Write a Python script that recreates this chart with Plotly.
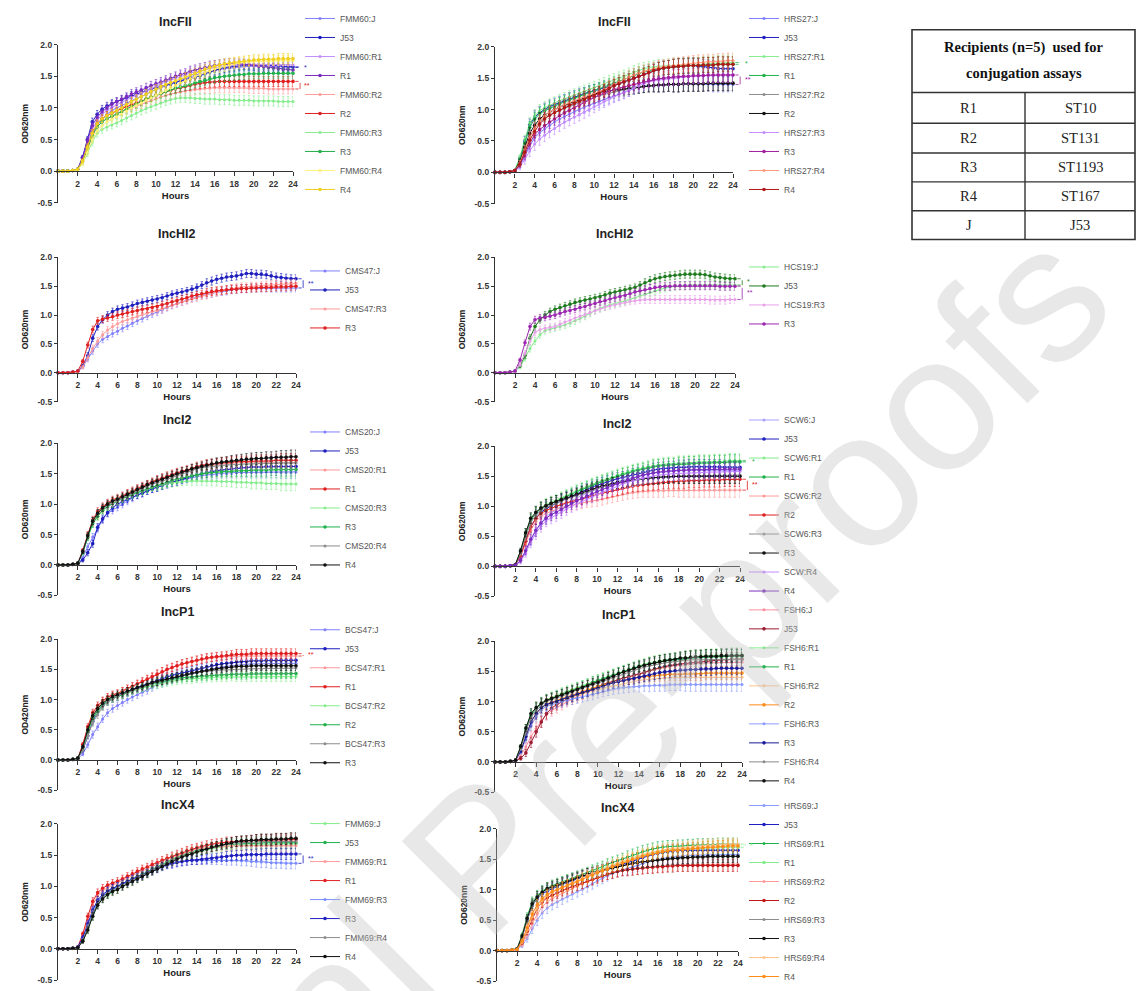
import plotly.graph_objects as go

W, H = 1138, 991

HOURS = [0, 0.5, 1, 1.5, 2, 2.5, 3, 3.5, 4, 4.5, 5, 5.5, 6, 6.5, 7, 7.5, 8, 8.5, 9, 9.5,
         10, 10.5, 11, 11.5, 12, 12.5, 13, 13.5, 14, 14.5, 15, 15.5, 16, 16.5, 17, 17.5,
         18, 18.5, 19, 19.5, 20, 20.5, 21, 21.5, 22, 22.5, 23, 23.5, 24]
XTICKS = [2, 4, 6, 8, 10, 12, 14, 16, 18, 20, 22, 24]
YTICKS = [-0.5, 0.0, 0.5, 1.0, 1.5, 2.0]
YTICKTEXT = ["-0.5", "0.0", "0.5", "1.0", "1.5", "2.0"]

# ---------------- Panel A : IncFII (FMM60) ----------------
A_TITLE = "IncFII"
A_NAMES = ["FMM60:J", "J53", "FMM60:R1", "R1", "FMM60:R2", "R2", "FMM60:R3", "R3", "FMM60:R4", "R4"]
A_FMM60_J = [0,0,0,0.01,0.03, 0.15,0.35,0.58,0.72,0.82, 0.9,0.96,1.0,1.04,1.08, 1.11,1.15,1.18,1.22,1.26, 1.29,1.32,1.35,1.38,1.41, 1.44,1.47,1.5,1.52,1.54, 1.56,1.58,1.6,1.61,1.62, 1.63,1.64,1.65,1.65,1.66, 1.66,1.66,1.66,1.66,1.65, 1.65,1.65,1.64,1.64]
A_J53 = [0,0,0,0.01,0.03, 0.22,0.5,0.78,0.9,0.98, 1.03,1.07,1.1,1.13,1.16, 1.19,1.22,1.24,1.27,1.3, 1.32,1.34,1.36,1.38,1.4, 1.42,1.44,1.46,1.48,1.51, 1.54,1.57,1.6,1.62,1.64, 1.65,1.66,1.67,1.68,1.68, 1.68,1.68,1.68,1.68,1.68, 1.67,1.66,1.66,1.65]
A_FMM60_R1 = [0,0,0,0.01,0.03, 0.18,0.42,0.66,0.8,0.9, 0.96,1.01,1.05,1.09,1.13, 1.17,1.2,1.23,1.27,1.31, 1.35,1.38,1.41,1.44,1.47, 1.5,1.52,1.55,1.57,1.59, 1.61,1.63,1.64,1.65,1.66, 1.67,1.68,1.68,1.69,1.69, 1.69,1.69,1.69,1.68,1.68, 1.68,1.68,1.68,1.68]
A_R1 = [0,0,0,0.01,0.03, 0.2,0.48,0.72,0.85,0.94, 1.0,1.06,1.1,1.14,1.18, 1.22,1.25,1.28,1.32,1.35, 1.38,1.41,1.44,1.47,1.5, 1.53,1.55,1.58,1.6,1.62, 1.64,1.66,1.67,1.68,1.69, 1.7,1.7,1.7,1.69,1.68, 1.67,1.66,1.65,1.64,1.63, 1.62,1.61,1.61,1.6]
A_FMM60_R2 = [0,0,0,0.01,0.03, 0.14,0.34,0.55,0.7,0.78, 0.83,0.87,0.9,0.94,0.97, 1.0,1.03,1.06,1.09,1.12, 1.15,1.18,1.2,1.22,1.24, 1.26,1.27,1.28,1.29,1.3, 1.31,1.31,1.32,1.32,1.32, 1.32,1.32,1.32,1.32,1.31, 1.31,1.31,1.31,1.3,1.3, 1.3,1.3,1.3,1.3]
A_R2 = [0,0,0,0.01,0.03, 0.16,0.38,0.6,0.75,0.83, 0.88,0.92,0.95,0.99,1.02, 1.05,1.08,1.11,1.14,1.17, 1.2,1.23,1.26,1.28,1.3, 1.32,1.34,1.36,1.38,1.39, 1.4,1.41,1.41,1.42,1.42, 1.42,1.42,1.42,1.42,1.42, 1.42,1.42,1.42,1.42,1.42, 1.42,1.42,1.42,1.42]
A_FMM60_R3 = [0,0,0,0.01,0.02, 0.12,0.28,0.46,0.6,0.66, 0.7,0.73,0.76,0.8,0.84, 0.88,0.92,0.96,0.99,1.02, 1.05,1.08,1.11,1.13,1.15, 1.16,1.16,1.16,1.15,1.15, 1.14,1.14,1.14,1.13,1.13, 1.13,1.12,1.12,1.12,1.12, 1.11,1.11,1.11,1.11,1.11, 1.1,1.1,1.1,1.1]
A_R3 = [0,0,0,0.01,0.03, 0.15,0.35,0.56,0.7,0.78, 0.83,0.87,0.9,0.94,0.98, 1.02,1.06,1.1,1.14,1.17, 1.2,1.23,1.26,1.29,1.31, 1.33,1.35,1.37,1.4,1.42, 1.44,1.46,1.48,1.49,1.5, 1.51,1.52,1.53,1.53,1.54, 1.54,1.54,1.55,1.55,1.55, 1.55,1.55,1.55,1.55]
A_FMM60_R4 = [0,0,0,0.01,0.02, 0.12,0.3,0.5,0.64,0.72, 0.78,0.82,0.86,0.9,0.95, 1.0,1.04,1.08,1.12,1.16, 1.2,1.24,1.28,1.32,1.36, 1.4,1.43,1.46,1.5,1.53, 1.56,1.59,1.62,1.64,1.66, 1.68,1.7,1.71,1.72,1.73, 1.73,1.74,1.74,1.74,1.75, 1.75,1.75,1.75,1.75]
A_R4 = [0,0,0,0.01,0.03, 0.16,0.38,0.6,0.75,0.83, 0.88,0.92,0.96,1.0,1.05, 1.1,1.14,1.18,1.22,1.26, 1.3,1.34,1.37,1.4,1.43, 1.46,1.49,1.52,1.55,1.58, 1.61,1.64,1.66,1.68,1.7, 1.71,1.72,1.73,1.74,1.75, 1.76,1.76,1.77,1.77,1.77, 1.78,1.78,1.78,1.78]
A_VALUES = [A_FMM60_J, A_J53, A_FMM60_R1, A_R1, A_FMM60_R2, A_R2, A_FMM60_R3, A_R3, A_FMM60_R4, A_R4]
A_SD = [0,0,0,0.01,0.01, 0.03,0.05,0.06,0.06,0.06, 0.06,0.06,0.06,0.06,0.06, 0.07,0.07,0.07,0.07,0.07, 0.07,0.07,0.07,0.07,0.07, 0.07,0.07,0.08,0.08,0.08, 0.08,0.08,0.08,0.08,0.08, 0.08,0.08,0.08,0.08,0.08, 0.08,0.08,0.08,0.08,0.08, 0.08,0.08,0.08,0.08]
A_SIG = [(0, 1, "*"), (4, 5, "**")]

# ---------------- Panel B : IncFII (HRS27) ----------------
B_TITLE = "IncFII"
B_NAMES = ["HRS27:J", "J53", "HRS27:R1", "R1", "HRS27:R2", "R2", "HRS27:R3", "R3", "HRS27:R4", "R4"]
B_HRS27_J = [0,0,0,0.01,0.02, 0.1,0.25,0.42,0.55,0.63, 0.69,0.75,0.8,0.85,0.89, 0.93,0.97,1.0,1.04,1.07, 1.1,1.13,1.16,1.19,1.22, 1.25,1.28,1.31,1.34,1.36, 1.37,1.38,1.39,1.39,1.4, 1.4,1.4,1.4,1.41,1.41, 1.41,1.41,1.41,1.41,1.4, 1.4,1.4,1.4,1.4]
B_J53 = [0,0,0,0.01,0.03, 0.22,0.5,0.76,0.88,0.95, 1.0,1.05,1.08,1.11,1.14, 1.17,1.2,1.23,1.25,1.28, 1.3,1.32,1.34,1.36,1.38, 1.41,1.44,1.47,1.5,1.53, 1.56,1.59,1.62,1.64,1.66, 1.67,1.68,1.69,1.7,1.7, 1.7,1.69,1.68,1.67,1.66, 1.65,1.65,1.65,1.65]
B_HRS27_R1 = [0,0,0,0.01,0.03, 0.24,0.52,0.78,0.9,0.98, 1.03,1.07,1.1,1.14,1.17, 1.2,1.23,1.26,1.29,1.32, 1.35,1.38,1.41,1.44,1.47, 1.5,1.53,1.56,1.6,1.63, 1.65,1.67,1.68,1.69,1.69, 1.7,1.7,1.7,1.7,1.7, 1.7,1.71,1.72,1.73,1.73, 1.74,1.74,1.75,1.75]
B_R1 = [0,0,0,0.01,0.03, 0.2,0.46,0.72,0.85,0.93, 0.98,1.02,1.05,1.09,1.12, 1.15,1.18,1.21,1.24,1.27, 1.3,1.33,1.36,1.39,1.42, 1.45,1.48,1.51,1.55,1.58, 1.6,1.62,1.64,1.65,1.66, 1.67,1.68,1.69,1.69,1.7, 1.7,1.7,1.71,1.71,1.71, 1.72,1.72,1.72,1.72]
B_HRS27_R2 = [0,0,0,0.01,0.03, 0.15,0.36,0.56,0.7,0.8, 0.86,0.91,0.95,0.99,1.02, 1.05,1.08,1.11,1.14,1.17, 1.2,1.22,1.24,1.26,1.28, 1.3,1.31,1.33,1.35,1.36, 1.37,1.38,1.38,1.39,1.39, 1.4,1.4,1.4,1.41,1.41, 1.41,1.41,1.42,1.42,1.42, 1.42,1.42,1.42,1.42]
B_R2 = [0,0,0,0.01,0.03, 0.17,0.4,0.62,0.75,0.85, 0.91,0.96,1.0,1.04,1.07, 1.1,1.13,1.16,1.19,1.22, 1.25,1.27,1.29,1.3,1.31, 1.32,1.33,1.34,1.35,1.36, 1.37,1.38,1.38,1.39,1.39, 1.4,1.4,1.4,1.41,1.41, 1.41,1.41,1.41,1.42,1.42, 1.42,1.42,1.42,1.42]
B_HRS27_R3 = [0,0,0,0.01,0.02, 0.08,0.2,0.34,0.45,0.53, 0.59,0.65,0.7,0.75,0.8, 0.84,0.88,0.92,0.96,1.0, 1.05,1.09,1.13,1.17,1.21, 1.24,1.27,1.31,1.35,1.38, 1.41,1.44,1.46,1.47,1.48, 1.49,1.5,1.51,1.52,1.52, 1.53,1.53,1.54,1.54,1.54, 1.55,1.55,1.55,1.55]
B_R3 = [0,0,0,0.01,0.02, 0.12,0.28,0.46,0.6,0.68, 0.74,0.8,0.85,0.9,0.95, 0.99,1.03,1.07,1.11,1.16, 1.2,1.23,1.26,1.29,1.32, 1.34,1.36,1.38,1.4,1.42, 1.44,1.46,1.48,1.49,1.5, 1.51,1.52,1.52,1.53,1.53, 1.54,1.54,1.54,1.55,1.55, 1.55,1.55,1.55,1.55]
B_HRS27_R4 = [0,0,0,0.01,0.03, 0.15,0.36,0.56,0.7,0.82, 0.9,0.96,1.0,1.04,1.08, 1.11,1.14,1.17,1.2,1.23, 1.25,1.28,1.32,1.36,1.4, 1.44,1.48,1.52,1.55,1.58, 1.61,1.63,1.65,1.67,1.68, 1.69,1.7,1.71,1.72,1.73, 1.74,1.75,1.75,1.76,1.76, 1.77,1.77,1.78,1.78]
B_R4 = [0,0,0,0.01,0.03, 0.13,0.32,0.51,0.65,0.77, 0.85,0.91,0.95,0.99,1.03, 1.07,1.1,1.13,1.16,1.19, 1.22,1.26,1.3,1.34,1.38, 1.41,1.44,1.47,1.5,1.53, 1.56,1.59,1.62,1.64,1.66, 1.67,1.68,1.69,1.69,1.7, 1.7,1.7,1.71,1.71,1.71, 1.72,1.72,1.72,1.72]
B_VALUES = [B_HRS27_J, B_J53, B_HRS27_R1, B_R1, B_HRS27_R2, B_R2, B_HRS27_R3, B_R3, B_HRS27_R4, B_R4]
B_SD = [0,0,0,0.01,0.01, 0.04,0.07,0.09,0.1,0.1, 0.1,0.1,0.1,0.1,0.1, 0.1,0.1,0.1,0.1,0.1, 0.1,0.1,0.1,0.1,0.1, 0.1,0.1,0.1,0.1,0.1, 0.1,0.1,0.1,0.11,0.11, 0.11,0.12,0.12,0.12,0.12, 0.12,0.12,0.12,0.12,0.12, 0.12,0.12,0.12,0.12]
B_SIG = [(2, 3, "*"), (0, 7, "**")]

# ---------------- Panel C : IncHI2 (CMS47) ----------------
C_TITLE = "IncHI2"
C_NAMES = ["CMS47:J", "J53", "CMS47:R3", "R3"]
C_CMS47_J = [0,0,0,0.01,0.02, 0.1,0.24,0.38,0.5,0.58, 0.63,0.68,0.72,0.77,0.81, 0.86,0.9,0.94,0.98,1.02, 1.05,1.09,1.13,1.17,1.2, 1.23,1.26,1.29,1.32,1.34, 1.36,1.38,1.4,1.41,1.42, 1.44,1.45,1.46,1.46,1.47, 1.47,1.47,1.47,1.47,1.47, 1.47,1.47,1.47,1.47]
C_J53 = [0,0,0,0.01,0.03, 0.12,0.3,0.6,0.8,0.92, 1.0,1.06,1.1,1.12,1.14, 1.17,1.2,1.22,1.24,1.26, 1.28,1.3,1.33,1.36,1.38, 1.4,1.42,1.45,1.48,1.52, 1.56,1.59,1.62,1.64,1.66, 1.67,1.68,1.7,1.72,1.72, 1.71,1.71,1.7,1.68,1.66, 1.65,1.64,1.63,1.63]
C_CMS47_R3 = [0,0,0,0.01,0.02, 0.1,0.26,0.42,0.55,0.66, 0.74,0.8,0.85,0.89,0.92, 0.95,0.98,1.01,1.03,1.06, 1.08,1.11,1.14,1.17,1.2, 1.23,1.25,1.28,1.3,1.33, 1.35,1.38,1.4,1.42,1.44, 1.46,1.48,1.49,1.49,1.5, 1.5,1.51,1.52,1.52,1.53, 1.53,1.54,1.54,1.55]
C_R3 = [0,0,0,0.01,0.03, 0.2,0.48,0.75,0.9,0.93, 0.95,0.97,1.0,1.02,1.04, 1.06,1.08,1.1,1.11,1.13, 1.15,1.18,1.2,1.23,1.25, 1.28,1.3,1.33,1.35,1.37, 1.39,1.41,1.42,1.43,1.44, 1.45,1.45,1.46,1.46,1.47, 1.47,1.48,1.48,1.48,1.49, 1.49,1.49,1.5,1.5]
C_VALUES = [C_CMS47_J, C_J53, C_CMS47_R3, C_R3]
C_SD = [0,0,0,0.01,0.01, 0.03,0.05,0.06,0.06,0.06, 0.06,0.06,0.06,0.06,0.06, 0.06,0.06,0.06,0.06,0.06, 0.06,0.06,0.06,0.06,0.06, 0.06,0.06,0.06,0.06,0.06, 0.07,0.07,0.07,0.07,0.07, 0.07,0.07,0.07,0.07,0.07, 0.07,0.07,0.07,0.07,0.07, 0.07,0.07,0.07,0.07]
C_SIG = [(0, 1, "**")]

# ---------------- Panel D : IncHI2 (HCS19) ----------------
D_TITLE = "IncHI2"
D_NAMES = ["HCS19:J", "J53", "HCS19:R3", "R3"]
D_HCS19_J = [0,0,0,0.01,0.02, 0.1,0.25,0.42,0.55,0.66, 0.73,0.76,0.78,0.8,0.83, 0.86,0.9,0.94,0.98,1.03, 1.08,1.12,1.15,1.18,1.2, 1.22,1.24,1.27,1.3,1.33, 1.36,1.39,1.42,1.45,1.47, 1.49,1.5,1.51,1.51,1.52, 1.52,1.52,1.52,1.52,1.52, 1.52,1.52,1.52,1.52]
D_J53 = [0,0,0,0.01,0.03, 0.12,0.3,0.6,0.8,0.92, 1.0,1.06,1.1,1.13,1.16, 1.19,1.22,1.24,1.26,1.28, 1.3,1.32,1.35,1.38,1.4, 1.42,1.44,1.46,1.48,1.52, 1.56,1.6,1.63,1.65,1.67, 1.68,1.69,1.7,1.71,1.71, 1.71,1.71,1.7,1.68,1.66, 1.65,1.64,1.63,1.63]
D_HCS19_R3 = [0,0,0,0.01,0.02, 0.14,0.34,0.55,0.7,0.75, 0.77,0.79,0.8,0.84,0.88, 0.91,0.95,0.98,1.01,1.05, 1.08,1.11,1.14,1.16,1.18, 1.2,1.22,1.24,1.25,1.26, 1.27,1.27,1.27,1.27,1.27, 1.27,1.27,1.27,1.27,1.27, 1.27,1.27,1.27,1.26,1.26, 1.26,1.26,1.27,1.27]
D_R3 = [0,0,0,0.01,0.03, 0.22,0.52,0.8,0.92,0.95, 0.96,0.98,1.0,1.03,1.06, 1.08,1.1,1.13,1.15,1.18, 1.2,1.23,1.25,1.28,1.3, 1.32,1.34,1.37,1.4,1.42, 1.44,1.46,1.48,1.49,1.5, 1.5,1.51,1.51,1.51,1.51, 1.51,1.51,1.51,1.51,1.51, 1.5,1.5,1.5,1.5]
D_VALUES = [D_HCS19_J, D_J53, D_HCS19_R3, D_R3]
D_SD = [0,0,0,0.01,0.01, 0.03,0.05,0.06,0.06,0.06, 0.06,0.06,0.06,0.06,0.06, 0.06,0.06,0.06,0.06,0.06, 0.06,0.06,0.06,0.06,0.06, 0.06,0.06,0.06,0.06,0.06, 0.07,0.07,0.07,0.07,0.07, 0.07,0.07,0.07,0.07,0.07, 0.07,0.07,0.07,0.07,0.07, 0.07,0.07,0.07,0.07]
D_SIG = [(0, 1, "*"), (2, 3, "**")]

# ---------------- Panel E : IncI2 (CMS20) ----------------
E_TITLE = "IncI2"
E_NAMES = ["CMS20:J", "J53", "CMS20:R1", "R1", "CMS20:R3", "R3", "CMS20:R4", "R4"]
E_CMS20_J = [0,0,0,0.01,0.02, 0.12,0.3,0.46,0.6,0.74, 0.85,0.9,0.95,1.0,1.05, 1.1,1.15,1.18,1.22,1.25, 1.28,1.31,1.33,1.36,1.38, 1.4,1.42,1.44,1.45,1.47, 1.48,1.49,1.5,1.51,1.51, 1.52,1.52,1.52,1.53,1.53, 1.53,1.53,1.53,1.53,1.53, 1.53,1.53,1.53,1.53]
E_J53 = [0,0,0,0.01,0.02, 0.08,0.2,0.35,0.62,0.76, 0.86,0.94,1.0,1.04,1.08, 1.12,1.15,1.18,1.22,1.25, 1.28,1.31,1.34,1.36,1.38, 1.41,1.43,1.46,1.48,1.5, 1.52,1.54,1.55,1.56,1.57, 1.58,1.59,1.6,1.6,1.61, 1.61,1.61,1.62,1.62,1.62, 1.62,1.62,1.62,1.62]
E_CMS20_R1 = [0,0,0,0.01,0.03, 0.2,0.46,0.7,0.82,0.92, 0.98,1.04,1.08,1.12,1.16, 1.2,1.23,1.27,1.31,1.35, 1.38,1.41,1.44,1.47,1.5, 1.52,1.54,1.57,1.6,1.62, 1.63,1.64,1.65,1.66,1.67, 1.67,1.68,1.68,1.68,1.68, 1.68,1.68,1.68,1.68,1.68, 1.68,1.68,1.68,1.68]
E_R1 = [0,0,0,0.01,0.03, 0.24,0.5,0.74,0.88,0.96, 1.02,1.07,1.1,1.14,1.18, 1.22,1.26,1.3,1.33,1.37, 1.4,1.43,1.46,1.49,1.52, 1.54,1.56,1.59,1.62,1.64, 1.65,1.66,1.67,1.68,1.69, 1.69,1.7,1.7,1.7,1.71, 1.71,1.71,1.71,1.71,1.72, 1.72,1.72,1.72,1.72]
E_CMS20_R3 = [0,0,0,0.01,0.03, 0.2,0.45,0.68,0.8,0.9, 0.96,1.01,1.05,1.09,1.13, 1.16,1.19,1.22,1.25,1.28, 1.3,1.32,1.34,1.35,1.36, 1.37,1.38,1.38,1.38,1.38, 1.38,1.38,1.38,1.37,1.37, 1.37,1.36,1.36,1.36,1.35, 1.35,1.35,1.34,1.34,1.34, 1.33,1.33,1.33,1.33]
E_R3 = [0,0,0,0.01,0.03, 0.2,0.45,0.68,0.8,0.9, 0.96,1.01,1.05,1.09,1.13, 1.16,1.19,1.22,1.25,1.28, 1.3,1.33,1.36,1.39,1.41, 1.43,1.45,1.47,1.48,1.5, 1.51,1.52,1.53,1.53,1.54, 1.54,1.55,1.55,1.55,1.56, 1.56,1.56,1.56,1.57,1.57, 1.57,1.57,1.57,1.57]
E_CMS20_R4 = [0,0,0,0.01,0.03, 0.22,0.48,0.72,0.85,0.93, 0.98,1.02,1.05,1.1,1.14, 1.18,1.22,1.26,1.3,1.33, 1.35,1.38,1.41,1.44,1.47, 1.5,1.52,1.55,1.58,1.6, 1.61,1.62,1.63,1.64,1.64, 1.65,1.65,1.66,1.66,1.66, 1.67,1.67,1.67,1.67,1.68, 1.68,1.68,1.68,1.68]
E_R4 = [0,0,0,0.01,0.03, 0.22,0.48,0.72,0.85,0.94, 1.0,1.05,1.08,1.12,1.16, 1.2,1.24,1.28,1.32,1.35, 1.38,1.41,1.44,1.47,1.5, 1.53,1.55,1.58,1.6,1.62, 1.64,1.66,1.68,1.69,1.7, 1.71,1.72,1.73,1.74,1.74, 1.75,1.75,1.76,1.76,1.77, 1.77,1.77,1.78,1.78]
E_VALUES = [E_CMS20_J, E_J53, E_CMS20_R1, E_R1, E_CMS20_R3, E_R3, E_CMS20_R4, E_R4]
E_SD = [0,0,0,0.01,0.01, 0.03,0.05,0.06,0.06,0.06, 0.06,0.06,0.06,0.06,0.06, 0.06,0.06,0.06,0.06,0.06, 0.07,0.07,0.07,0.07,0.07, 0.07,0.07,0.07,0.07,0.07, 0.08,0.08,0.08,0.08,0.08, 0.09,0.09,0.09,0.09,0.1, 0.1,0.1,0.1,0.1,0.1, 0.11,0.11,0.11,0.11]
E_SIG = []

# ---------------- Panel F : IncI2 (SCW6) ----------------
F_TITLE = "IncI2"
F_NAMES = ["SCW6:J", "J53", "SCW6:R1", "R1", "SCW6:R2", "R2", "SCW6:R3", "R3", "SCW:R4", "R4"]
F_SCW6_J = [0,0,0,0.01,0.02, 0.1,0.26,0.44,0.6,0.72, 0.82,0.89,0.95,1.0,1.05, 1.1,1.14,1.18,1.22,1.26, 1.3,1.33,1.36,1.39,1.42, 1.44,1.46,1.48,1.5,1.52, 1.54,1.55,1.56,1.57,1.58, 1.59,1.6,1.6,1.6,1.6, 1.6,1.6,1.6,1.6,1.6, 1.6,1.6,1.6,1.6]
F_J53 = [0,0,0,0.01,0.03, 0.18,0.42,0.66,0.8,0.9, 0.96,1.01,1.05,1.09,1.13, 1.17,1.21,1.25,1.28,1.32, 1.35,1.38,1.41,1.44,1.46, 1.48,1.5,1.53,1.55,1.57, 1.59,1.61,1.62,1.63,1.64, 1.64,1.65,1.65,1.66,1.66, 1.66,1.66,1.66,1.66,1.66, 1.65,1.65,1.65,1.65]
F_SCW6_R1 = [0,0,0,0.01,0.03, 0.26,0.56,0.8,0.9,0.98, 1.03,1.07,1.1,1.14,1.18, 1.22,1.26,1.3,1.33,1.37, 1.4,1.43,1.46,1.49,1.52, 1.55,1.57,1.6,1.62,1.64, 1.66,1.68,1.69,1.7,1.71, 1.71,1.72,1.72,1.73,1.73, 1.74,1.74,1.74,1.75,1.75, 1.75,1.76,1.76,1.76]
F_R1 = [0,0,0,0.01,0.03, 0.24,0.53,0.77,0.88,0.96, 1.01,1.05,1.08,1.12,1.16, 1.2,1.24,1.28,1.31,1.35, 1.38,1.41,1.44,1.47,1.5, 1.53,1.55,1.58,1.6,1.62, 1.64,1.66,1.67,1.68,1.69, 1.69,1.7,1.7,1.71,1.71, 1.72,1.72,1.72,1.73,1.73, 1.73,1.74,1.74,1.74]
F_SCW6_R2 = [0,0,0,0.01,0.03, 0.16,0.38,0.6,0.75,0.83, 0.88,0.92,0.95,0.98,1.0, 1.02,1.04,1.06,1.08,1.09, 1.1,1.12,1.14,1.16,1.18, 1.2,1.22,1.23,1.24,1.25, 1.25,1.26,1.26,1.26,1.27, 1.27,1.27,1.27,1.27,1.27, 1.27,1.27,1.27,1.27,1.27, 1.27,1.27,1.27,1.27]
F_R2 = [0,0,0,0.01,0.03, 0.18,0.42,0.66,0.8,0.88, 0.93,0.97,1.0,1.03,1.06, 1.08,1.1,1.12,1.15,1.17, 1.2,1.22,1.24,1.26,1.28, 1.3,1.32,1.34,1.35,1.36, 1.37,1.38,1.39,1.4,1.41, 1.41,1.42,1.42,1.43,1.43, 1.43,1.44,1.44,1.44,1.44, 1.45,1.45,1.45,1.45]
F_SCW6_R3 = [0,0,0,0.01,0.03, 0.22,0.5,0.73,0.85,0.93, 0.98,1.02,1.05,1.09,1.12, 1.15,1.18,1.21,1.24,1.27, 1.3,1.32,1.34,1.36,1.38, 1.4,1.41,1.43,1.45,1.46, 1.47,1.48,1.48,1.49,1.49, 1.5,1.5,1.5,1.51,1.51, 1.51,1.51,1.51,1.52,1.52, 1.52,1.52,1.52,1.52]
F_R3 = [0,0,0,0.01,0.03, 0.26,0.56,0.8,0.9,0.97, 1.01,1.05,1.08,1.11,1.14, 1.17,1.2,1.23,1.26,1.29, 1.32,1.34,1.36,1.38,1.4, 1.41,1.42,1.44,1.45,1.46, 1.47,1.48,1.48,1.49,1.49, 1.5,1.5,1.5,1.5,1.5, 1.5,1.5,1.5,1.5,1.5, 1.5,1.5,1.5,1.5]
F_SCW_R4 = [0,0,0,0.01,0.02, 0.08,0.22,0.4,0.55,0.67, 0.76,0.81,0.85,0.9,0.95, 1.0,1.04,1.08,1.12,1.16, 1.2,1.23,1.27,1.3,1.34, 1.37,1.4,1.43,1.45,1.47, 1.49,1.51,1.52,1.53,1.54, 1.54,1.55,1.55,1.56,1.56, 1.56,1.57,1.57,1.57,1.57, 1.58,1.58,1.58,1.58]
F_R4 = [0,0,0,0.01,0.02, 0.1,0.26,0.45,0.6,0.72, 0.8,0.86,0.9,0.95,1.0, 1.05,1.09,1.13,1.17,1.21, 1.25,1.28,1.31,1.35,1.38, 1.41,1.44,1.47,1.5,1.52, 1.54,1.56,1.57,1.58,1.59, 1.59,1.6,1.6,1.61,1.61, 1.61,1.61,1.62,1.62,1.62, 1.62,1.62,1.62,1.62]
F_VALUES = [F_SCW6_J, F_J53, F_SCW6_R1, F_R1, F_SCW6_R2, F_R2, F_SCW6_R3, F_R3, F_SCW_R4, F_R4]
F_SD = [0,0,0,0.01,0.01, 0.04,0.07,0.09,0.1,0.1, 0.1,0.1,0.1,0.1,0.1, 0.1,0.1,0.1,0.1,0.1, 0.1,0.1,0.1,0.1,0.1, 0.1,0.1,0.1,0.1,0.1, 0.1,0.11,0.11,0.11,0.11, 0.11,0.12,0.12,0.12,0.12, 0.12,0.12,0.12,0.12,0.12, 0.12,0.12,0.12,0.12]
F_SIG = [(2, 3, "*"), (4, 5, "**")]

# ---------------- Panel G : IncP1 (BCS47) ----------------
G_TITLE = "IncP1"
G_NAMES = ["BCS47:J", "J53", "BCS47:R1", "R1", "BCS47:R2", "R2", "BCS47:R3", "R3"]
G_BCS47_J = [0,0,0,0.01,0.02, 0.1,0.25,0.42,0.55,0.68, 0.78,0.85,0.9,0.95,1.0, 1.04,1.08,1.12,1.15,1.2, 1.25,1.28,1.31,1.34,1.37, 1.39,1.41,1.43,1.45,1.47, 1.49,1.51,1.53,1.54,1.55, 1.56,1.57,1.58,1.58,1.59, 1.59,1.59,1.6,1.6,1.6, 1.6,1.6,1.6,1.6]
G_J53 = [0,0,0,0.01,0.03, 0.16,0.4,0.64,0.8,0.9, 0.97,1.02,1.05,1.09,1.13, 1.17,1.2,1.23,1.26,1.29, 1.32,1.35,1.38,1.4,1.42, 1.44,1.46,1.48,1.5,1.52, 1.54,1.56,1.58,1.59,1.6, 1.61,1.62,1.63,1.63,1.64, 1.64,1.64,1.65,1.65,1.65, 1.65,1.65,1.65,1.65]
G_BCS47_R1 = [0,0,0,0.01,0.03, 0.24,0.52,0.76,0.88,0.97, 1.03,1.07,1.1,1.14,1.18, 1.22,1.26,1.3,1.34,1.38, 1.42,1.46,1.5,1.53,1.56, 1.59,1.61,1.63,1.65,1.67, 1.68,1.69,1.7,1.7,1.71, 1.71,1.72,1.72,1.72,1.72, 1.72,1.72,1.72,1.72,1.72, 1.72,1.72,1.72,1.72]
G_R1 = [0,0,0,0.01,0.03, 0.26,0.55,0.78,0.9,0.98, 1.04,1.08,1.1,1.14,1.18, 1.22,1.26,1.3,1.34,1.38, 1.42,1.46,1.5,1.53,1.56, 1.59,1.61,1.63,1.65,1.67, 1.69,1.7,1.71,1.72,1.73, 1.74,1.75,1.75,1.75,1.76, 1.76,1.76,1.76,1.76,1.76, 1.76,1.76,1.76,1.76]
G_BCS47_R2 = [0,0,0,0.01,0.03, 0.2,0.45,0.68,0.8,0.9, 0.97,1.02,1.05,1.08,1.11, 1.14,1.17,1.19,1.21,1.23, 1.25,1.27,1.29,1.31,1.32, 1.33,1.34,1.34,1.35,1.35, 1.36,1.36,1.37,1.37,1.37, 1.38,1.38,1.38,1.38,1.38, 1.38,1.38,1.38,1.38,1.38, 1.38,1.38,1.38,1.38]
G_R2 = [0,0,0,0.01,0.03, 0.2,0.46,0.7,0.82,0.92, 0.98,1.02,1.05,1.08,1.12, 1.15,1.18,1.2,1.23,1.26, 1.28,1.3,1.32,1.34,1.35, 1.36,1.37,1.37,1.38,1.39, 1.39,1.4,1.4,1.41,1.41, 1.42,1.42,1.42,1.42,1.43, 1.43,1.43,1.43,1.43,1.43, 1.43,1.43,1.43,1.43]
G_BCS47_R3 = [0,0,0,0.01,0.03, 0.16,0.4,0.62,0.75,0.88, 0.96,1.01,1.05,1.09,1.12, 1.15,1.18,1.21,1.24,1.27, 1.3,1.32,1.34,1.36,1.38, 1.4,1.42,1.43,1.45,1.46, 1.47,1.48,1.48,1.49,1.49, 1.5,1.5,1.5,1.51,1.51, 1.51,1.51,1.52,1.52,1.52, 1.52,1.52,1.52,1.52]
G_R3 = [0,0,0,0.01,0.03, 0.22,0.5,0.73,0.85,0.94, 1.0,1.05,1.08,1.11,1.14, 1.17,1.2,1.22,1.25,1.28, 1.3,1.32,1.34,1.36,1.38, 1.4,1.42,1.44,1.45,1.47, 1.48,1.5,1.51,1.52,1.53, 1.54,1.55,1.55,1.55,1.56, 1.56,1.56,1.56,1.56,1.56, 1.56,1.56,1.56,1.56]
G_VALUES = [G_BCS47_J, G_J53, G_BCS47_R1, G_R1, G_BCS47_R2, G_R2, G_BCS47_R3, G_R3]
G_SD = [0,0,0,0.01,0.01, 0.03,0.05,0.06,0.06,0.06, 0.06,0.06,0.06,0.06,0.06, 0.06,0.06,0.06,0.06,0.06, 0.07,0.07,0.07,0.07,0.07, 0.07,0.07,0.07,0.07,0.07, 0.07,0.07,0.07,0.07,0.07, 0.07,0.08,0.08,0.08,0.08, 0.08,0.08,0.08,0.08,0.08, 0.08,0.08,0.08,0.08]
G_SIG = [(2, 3, "**")]

# ---------------- Panel H : IncP1 (FSH6) ----------------
H_TITLE = "IncP1"
H_NAMES = ["FSH6:J", "J53", "FSH6:R1", "R1", "FSH6:R2", "R2", "FSH6:R3", "R3", "FSH6:R4", "R4"]
H_FSH6_J = [0,0,0,0.01,0.02, 0.1,0.25,0.42,0.55,0.68, 0.78,0.85,0.9,0.95,1.0, 1.04,1.08,1.12,1.16,1.2, 1.25,1.28,1.31,1.34,1.37, 1.39,1.41,1.43,1.45,1.48, 1.5,1.53,1.55,1.57,1.58, 1.59,1.6,1.61,1.62,1.63, 1.63,1.64,1.64,1.64,1.65, 1.65,1.65,1.65,1.65]
H_J53 = [0,0,0,0.01,0.02, 0.06,0.15,0.32,0.5,0.66, 0.8,0.89,0.95,1.0,1.04, 1.08,1.11,1.14,1.18,1.21, 1.25,1.28,1.31,1.34,1.37, 1.39,1.41,1.43,1.45,1.48, 1.51,1.54,1.56,1.58,1.6, 1.61,1.62,1.63,1.64,1.65, 1.66,1.67,1.68,1.68,1.69, 1.69,1.7,1.7,1.7]
H_FSH6_R1 = [0,0,0,0.01,0.03, 0.26,0.56,0.8,0.9,0.98, 1.03,1.07,1.1,1.14,1.17, 1.2,1.23,1.26,1.29,1.32, 1.35,1.38,1.41,1.45,1.48, 1.51,1.54,1.57,1.6,1.62, 1.64,1.66,1.68,1.69,1.7, 1.71,1.72,1.73,1.74,1.75, 1.75,1.76,1.76,1.77,1.77, 1.77,1.78,1.78,1.78]
H_R1 = [0,0,0,0.01,0.03, 0.24,0.53,0.77,0.88,0.96, 1.01,1.05,1.08,1.12,1.15, 1.18,1.22,1.25,1.28,1.32, 1.35,1.38,1.41,1.44,1.47, 1.5,1.52,1.55,1.58,1.6, 1.62,1.64,1.66,1.67,1.68, 1.69,1.7,1.71,1.72,1.72, 1.73,1.73,1.74,1.74,1.74, 1.75,1.75,1.75,1.75]
H_FSH6_R2 = [0,0,0,0.01,0.03, 0.16,0.38,0.6,0.75,0.86, 0.93,0.97,1.0,1.03,1.06, 1.08,1.1,1.12,1.14,1.17, 1.2,1.22,1.24,1.26,1.28, 1.3,1.32,1.33,1.35,1.36, 1.37,1.38,1.38,1.39,1.39, 1.4,1.4,1.4,1.4,1.4, 1.4,1.4,1.4,1.4,1.4, 1.4,1.4,1.4,1.4]
H_R2 = [0,0,0,0.01,0.03, 0.18,0.42,0.66,0.8,0.9, 0.96,0.99,1.02,1.05,1.08, 1.11,1.14,1.17,1.2,1.22, 1.25,1.27,1.29,1.31,1.33, 1.35,1.37,1.38,1.4,1.41, 1.42,1.43,1.44,1.44,1.45, 1.45,1.45,1.46,1.46,1.46, 1.46,1.47,1.47,1.47,1.47, 1.47,1.47,1.47,1.47]
H_FSH6_R3 = [0,0,0,0.01,0.03, 0.16,0.38,0.6,0.75,0.86, 0.92,0.95,0.98,1.0,1.02, 1.04,1.06,1.08,1.1,1.12, 1.15,1.17,1.19,1.21,1.22, 1.23,1.24,1.25,1.25,1.26, 1.26,1.27,1.27,1.27,1.28, 1.28,1.28,1.28,1.28,1.28, 1.28,1.28,1.28,1.28,1.28, 1.28,1.28,1.28,1.28]
H_R3 = [0,0,0,0.01,0.03, 0.18,0.42,0.66,0.8,0.9, 0.95,0.98,1.0,1.03,1.06, 1.09,1.12,1.15,1.17,1.2, 1.22,1.25,1.28,1.31,1.33, 1.35,1.37,1.38,1.4,1.42, 1.44,1.46,1.48,1.49,1.5, 1.51,1.52,1.52,1.53,1.53, 1.54,1.54,1.54,1.55,1.55, 1.55,1.55,1.55,1.55]
H_FSH6_R4 = [0,0,0,0.01,0.03, 0.22,0.5,0.74,0.85,0.94, 1.0,1.03,1.05,1.09,1.12, 1.16,1.19,1.22,1.25,1.28, 1.3,1.33,1.36,1.39,1.42, 1.45,1.48,1.51,1.55,1.57, 1.59,1.61,1.63,1.64,1.65, 1.66,1.68,1.68,1.69,1.69, 1.69,1.7,1.7,1.7,1.7, 1.7,1.7,1.7,1.7]
H_R4 = [0,0,0,0.01,0.03, 0.26,0.56,0.8,0.9,0.97, 1.02,1.05,1.08,1.11,1.14, 1.17,1.2,1.23,1.26,1.29, 1.32,1.35,1.39,1.42,1.46, 1.49,1.52,1.55,1.58,1.6, 1.62,1.64,1.66,1.68,1.69, 1.7,1.72,1.72,1.73,1.74, 1.74,1.75,1.75,1.75,1.76, 1.76,1.76,1.76,1.76]
H_VALUES = [H_FSH6_J, H_J53, H_FSH6_R1, H_R1, H_FSH6_R2, H_R2, H_FSH6_R3, H_R3, H_FSH6_R4, H_R4]
H_SD = [0,0,0,0.01,0.01, 0.03,0.06,0.08,0.09,0.09, 0.09,0.09,0.09,0.09,0.09, 0.09,0.09,0.09,0.09,0.09, 0.09,0.09,0.09,0.09,0.09, 0.09,0.09,0.09,0.09,0.09, 0.1,0.1,0.1,0.1,0.1, 0.1,0.1,0.11,0.11,0.11, 0.11,0.11,0.11,0.11,0.11, 0.11,0.11,0.11,0.11]
H_SIG = []

# ---------------- Panel I : IncX4 (FMM69) ----------------
I_TITLE = "IncX4"
I_NAMES = ["FMM69:J", "J53", "FMM69:R1", "R1", "FMM69:R3", "R3", "FMM69:R4", "R4"]
I_FMM69_J = [0,0,0,0.01,0.02, 0.12,0.3,0.52,0.7,0.8, 0.86,0.91,0.95,1.0,1.04, 1.08,1.12,1.16,1.2,1.25, 1.3,1.34,1.38,1.42,1.45, 1.48,1.5,1.53,1.55,1.57, 1.59,1.61,1.62,1.63,1.64, 1.64,1.65,1.66,1.66,1.66, 1.67,1.67,1.67,1.67,1.68, 1.68,1.68,1.68,1.68]
I_J53 = [0,0,0,0.01,0.02, 0.14,0.34,0.56,0.75,0.84, 0.9,0.95,1.0,1.04,1.08, 1.12,1.16,1.2,1.24,1.28, 1.32,1.36,1.4,1.44,1.47, 1.5,1.53,1.55,1.58,1.6, 1.62,1.64,1.65,1.66,1.67, 1.67,1.68,1.68,1.69,1.69, 1.69,1.7,1.7,1.7,1.7, 1.7,1.7,1.7,1.7]
I_FMM69_R1 = [0,0,0,0.01,0.03, 0.2,0.46,0.7,0.85,0.93, 0.98,1.02,1.05,1.09,1.13, 1.17,1.21,1.25,1.28,1.32, 1.35,1.39,1.43,1.46,1.49, 1.52,1.55,1.57,1.6,1.61, 1.62,1.63,1.64,1.64,1.65, 1.65,1.65,1.65,1.65,1.65, 1.65,1.65,1.65,1.65,1.65, 1.65,1.65,1.65,1.65]
I_R1 = [0,0,0,0.01,0.03, 0.24,0.52,0.76,0.9,0.97, 1.02,1.05,1.08,1.12,1.16, 1.2,1.24,1.28,1.31,1.35, 1.38,1.42,1.45,1.48,1.51, 1.54,1.57,1.6,1.62,1.64, 1.66,1.68,1.69,1.7,1.71, 1.71,1.72,1.72,1.73,1.73, 1.74,1.74,1.74,1.74,1.75, 1.75,1.75,1.75,1.75]
I_FMM69_R3 = [0,0,0,0.01,0.03, 0.16,0.38,0.6,0.75,0.85, 0.92,0.96,1.0,1.04,1.08, 1.12,1.15,1.18,1.21,1.25, 1.28,1.31,1.34,1.36,1.38, 1.4,1.41,1.42,1.42,1.42, 1.42,1.42,1.42,1.42,1.42, 1.42,1.42,1.41,1.41,1.4, 1.4,1.39,1.39,1.38,1.38, 1.38,1.37,1.37,1.37]
I_R3 = [0,0,0,0.01,0.03, 0.18,0.4,0.62,0.78,0.87, 0.93,0.97,1.0,1.04,1.08, 1.12,1.15,1.18,1.22,1.26, 1.3,1.33,1.35,1.37,1.39, 1.4,1.41,1.42,1.42,1.43, 1.44,1.45,1.46,1.47,1.48, 1.49,1.5,1.5,1.51,1.51, 1.51,1.51,1.52,1.52,1.52, 1.52,1.52,1.52,1.52]
I_FMM69_R4 = [0,0,0,0.01,0.02, 0.14,0.34,0.56,0.72,0.82, 0.89,0.94,0.98,1.02,1.06, 1.1,1.14,1.18,1.22,1.26, 1.3,1.34,1.38,1.42,1.45, 1.48,1.5,1.53,1.55,1.58, 1.6,1.62,1.64,1.66,1.68, 1.69,1.7,1.7,1.71,1.71, 1.71,1.72,1.72,1.72,1.72, 1.72,1.72,1.72,1.72]
I_R4 = [0,0,0,0.01,0.02, 0.12,0.3,0.52,0.7,0.8, 0.87,0.92,0.95,1.0,1.04, 1.08,1.12,1.16,1.2,1.24, 1.28,1.32,1.36,1.4,1.44, 1.47,1.5,1.52,1.55,1.58, 1.6,1.63,1.65,1.67,1.69, 1.7,1.72,1.73,1.73,1.74, 1.74,1.75,1.75,1.75,1.76, 1.76,1.76,1.77,1.77]
I_VALUES = [I_FMM69_J, I_J53, I_FMM69_R1, I_R1, I_FMM69_R3, I_R3, I_FMM69_R4, I_R4]
I_SD = [0,0,0,0.01,0.01, 0.03,0.05,0.06,0.06,0.06, 0.06,0.06,0.06,0.06,0.06, 0.06,0.06,0.06,0.06,0.06, 0.06,0.06,0.06,0.07,0.07, 0.07,0.07,0.07,0.07,0.07, 0.07,0.07,0.07,0.07,0.08, 0.08,0.08,0.08,0.08,0.08, 0.09,0.09,0.09,0.09,0.09, 0.09,0.09,0.09,0.09]
I_SIG = [(4, 5, "**")]

# ---------------- Panel J : IncX4 (HRS69) ----------------
J_TITLE = "IncX4"
J_NAMES = ["HRS69:J", "J53", "HRS69:R1", "R1", "HRS69:R2", "R2", "HRS69:R3", "R3", "HRS69:R4", "R4"]
J_HRS69_J = [0,0,0,0.01,0.02, 0.08,0.2,0.36,0.5,0.62, 0.7,0.76,0.8,0.85,0.89, 0.93,0.97,1.01,1.05,1.1, 1.15,1.19,1.23,1.27,1.3, 1.33,1.35,1.38,1.4,1.43, 1.46,1.48,1.5,1.52,1.53, 1.54,1.55,1.56,1.56,1.57, 1.57,1.57,1.58,1.58,1.58, 1.58,1.58,1.58,1.58]
J_J53 = [0,0,0,0.01,0.03, 0.22,0.5,0.74,0.85,0.93, 0.98,1.02,1.05,1.09,1.12, 1.15,1.18,1.21,1.24,1.27, 1.3,1.33,1.36,1.38,1.4, 1.42,1.44,1.47,1.5,1.53, 1.56,1.58,1.6,1.62,1.63, 1.64,1.65,1.65,1.65,1.65, 1.65,1.65,1.65,1.65,1.65, 1.65,1.65,1.65,1.65]
J_HRS69_R1 = [0,0,0,0.01,0.03, 0.26,0.56,0.8,0.9,0.98, 1.03,1.07,1.1,1.13,1.16, 1.19,1.22,1.25,1.28,1.32, 1.35,1.38,1.42,1.45,1.48, 1.51,1.54,1.57,1.6,1.63, 1.65,1.67,1.69,1.7,1.71, 1.71,1.72,1.72,1.73,1.73, 1.74,1.74,1.74,1.74,1.75, 1.75,1.75,1.75,1.75]
J_R1 = [0,0,0,0.01,0.03, 0.24,0.53,0.77,0.88,0.96, 1.01,1.05,1.08,1.11,1.14, 1.17,1.2,1.23,1.26,1.29, 1.32,1.35,1.38,1.41,1.44, 1.47,1.5,1.52,1.55,1.57, 1.59,1.61,1.63,1.64,1.65, 1.66,1.66,1.67,1.67,1.68, 1.68,1.68,1.69,1.69,1.69, 1.7,1.7,1.7,1.7]
J_HRS69_R2 = [0,0,0,0.01,0.02, 0.1,0.26,0.44,0.6,0.72, 0.8,0.86,0.9,0.95,0.99, 1.03,1.07,1.1,1.14,1.17, 1.2,1.23,1.26,1.28,1.3, 1.32,1.33,1.34,1.35,1.36, 1.37,1.38,1.39,1.4,1.4, 1.41,1.41,1.41,1.42,1.42, 1.42,1.42,1.42,1.42,1.42, 1.42,1.42,1.42,1.42]
J_R2 = [0,0,0,0.01,0.02, 0.13,0.32,0.52,0.7,0.8, 0.87,0.91,0.95,0.99,1.02, 1.05,1.08,1.11,1.14,1.17, 1.2,1.23,1.26,1.28,1.3, 1.32,1.33,1.34,1.35,1.36, 1.37,1.37,1.38,1.38,1.39, 1.39,1.4,1.4,1.4,1.4, 1.4,1.4,1.4,1.4,1.4, 1.4,1.4,1.4,1.4]
J_HRS69_R3 = [0,0,0,0.01,0.03, 0.22,0.5,0.74,0.85,0.94, 1.0,1.03,1.05,1.09,1.13, 1.17,1.2,1.23,1.26,1.28, 1.3,1.32,1.34,1.36,1.38, 1.4,1.42,1.43,1.45,1.46, 1.47,1.48,1.49,1.5,1.51, 1.51,1.52,1.52,1.53,1.53, 1.54,1.54,1.54,1.55,1.55, 1.55,1.55,1.55,1.55]
J_R3 = [0,0,0,0.01,0.03, 0.24,0.53,0.77,0.88,0.96, 1.02,1.05,1.08,1.11,1.14, 1.17,1.2,1.23,1.26,1.28, 1.3,1.32,1.34,1.36,1.38, 1.4,1.42,1.43,1.45,1.46, 1.47,1.48,1.49,1.5,1.51, 1.52,1.52,1.53,1.53,1.54, 1.54,1.54,1.55,1.55,1.55, 1.55,1.55,1.55,1.55]
J_HRS69_R4 = [0,0,0,0.01,0.02, 0.14,0.34,0.56,0.7,0.82, 0.9,0.96,1.0,1.04,1.08, 1.12,1.16,1.2,1.24,1.27, 1.3,1.33,1.37,1.41,1.44, 1.47,1.5,1.52,1.55,1.58, 1.6,1.62,1.64,1.66,1.67, 1.68,1.68,1.69,1.7,1.71, 1.72,1.72,1.73,1.73,1.74, 1.74,1.75,1.75,1.75]
J_R4 = [0,0,0,0.01,0.02, 0.16,0.38,0.6,0.75,0.85, 0.92,0.97,1.0,1.04,1.07, 1.1,1.13,1.17,1.21,1.24, 1.28,1.31,1.34,1.38,1.41, 1.44,1.47,1.5,1.52,1.55, 1.57,1.59,1.61,1.63,1.64, 1.65,1.65,1.66,1.67,1.68, 1.68,1.69,1.7,1.7,1.71, 1.71,1.72,1.72,1.72]
J_VALUES = [J_HRS69_J, J_J53, J_HRS69_R1, J_R1, J_HRS69_R2, J_R2, J_HRS69_R3, J_R3, J_HRS69_R4, J_R4]
J_SD = [0,0,0,0.01,0.01, 0.03,0.06,0.08,0.09,0.09, 0.09,0.09,0.09,0.09,0.09, 0.09,0.09,0.09,0.09,0.09, 0.09,0.09,0.09,0.09,0.09, 0.09,0.1,0.1,0.1,0.1, 0.1,0.1,0.1,0.1,0.1, 0.1,0.1,0.1,0.1,0.1, 0.1,0.1,0.1,0.1,0.1, 0.1,0.1,0.1,0.1]
J_SIG = [(2, 3, "*")]

# ---------------- Table ----------------
TABLE_HEADER = ["Recipients (n=5)  used for", "conjugation assays"]
TABLE_LEFT = ["R1", "R2", "R3", "R4", "J"]
TABLE_RIGHT = ["ST10", "ST131", "ST1193", "ST167", "J53"]
WATERMARK = "Journal Pre-proofs"

# ================= styles & geometry (pixels) =================
LB, DB = "#8080ff", "#1f1fbf"
LV, PU = "#c48cff", "#7b2cbf"
PK, RD = "#ff9a9a", "#e02020"
LG, GR = "#86ec8e", "#22b14c"
LY, YE = "#fff07a", "#f0d020"
GY, BK = "#8c8c8c", "#111111"
LO, OR = "#ffc48a", "#ff8c1a"

STYLE = {
    "A": [LB, DB, LV, PU, PK, RD, LG, GR, LY, YE],
    "B": [LB, DB, LG, GR, GY, BK, LV, "#a020a0", "#ff9a7a", "#b01818"],
    "C": [LB, DB, PK, RD],
    "D": [LG, "#1e7a1e", "#e8a0e8", "#9c27b0"],
    "E": [LB, DB, PK, RD, LG, GR, GY, BK],
    "F": ["#a9a0ff", DB, LG, GR, PK, RD, GY, BK, LV, PU],
    "G": [LB, DB, PK, RD, LG, GR, GY, BK],
    "H": ["#ff8fa0", "#9b1b30", LG, GR, LO, OR, "#8a9cff", "#1a1a9c", GY, BK],
    "I": [LG, GR, PK, RD, "#7a8cff", DB, GY, BK],
    "J": ["#8a9cff", DB, GR, LG, PK, "#c01818", GY, BK, LO, OR],
}
# x0 (t=0), x24 (t=24), ytop (y=2.0), ybot (y=-0.5), title_y, legend_x, legend_top, ytitle
GEOM = {
    "A": (58, 293, 45, 204, 22, 300, 4, "OD620nm"),
    "B": (495, 733, 47, 205, 22, 744, 4, "OD620nm"),
    "C": (58, 296, 259, 404, 235, 305, 258, "OD620nm"),
    "D": (495, 735, 259, 404, 235, 744, 254, "OD620nm"),
    "E": (58, 296, 446, 599, 423, 305, 420, "OD620nm"),
    "F": (495, 740, 449, 600, 427, 744, 408, "OD620nm"),
    "G": (58, 296, 643, 795, 616, 305, 619, "OD420nm"),
    "H": (495, 742, 645, 797, 619, 744, 599, "OD620nm"),
    "I": (58, 296, 829, 986, 810, 305, 814, "OD620nm"),
    "J": (497, 738, 834, 987, 813, 744, 796, "OD620nm"),
}

PANELS = [
    ("A", A_TITLE, A_NAMES, A_VALUES, A_SD, A_SIG),
    ("B", B_TITLE, B_NAMES, B_VALUES, B_SD, B_SIG),
    ("C", C_TITLE, C_NAMES, C_VALUES, C_SD, C_SIG),
    ("D", D_TITLE, D_NAMES, D_VALUES, D_SD, D_SIG),
    ("E", E_TITLE, E_NAMES, E_VALUES, E_SD, E_SIG),
    ("F", F_TITLE, F_NAMES, F_VALUES, F_SD, F_SIG),
    ("G", G_TITLE, G_NAMES, G_VALUES, G_SD, G_SIG),
    ("H", H_TITLE, H_NAMES, H_VALUES, H_SD, H_SIG),
    ("I", I_TITLE, I_NAMES, I_VALUES, I_SD, I_SIG),
    ("J", J_TITLE, J_NAMES, J_VALUES, J_SD, J_SIG),
]

FONT = "Arial"
SERIF = "Liberation Serif, Times New Roman, serif"
AX_COLOR = "#333333"
BR_X, BR_CAP, BR_TXT = 1.03, 1.01, 1.04   # bracket positions (fraction of x-axis domain)


def px(x):
    return x / W


def py(y):
    return 1 - y / H


fig = go.Figure()
layout = {}
annotations = []
shapes = []

for k, (key, title, names, values, sd, sig) in enumerate(PANELS, start=1):
    x0, x24, ytop, ybot, ty, lx, ltop, ytitle = GEOM[key]
    colors = STYLE[key]
    xa = "x" if k == 1 else f"x{k}"
    ya = "y" if k == 1 else f"y{k}"
    xd = f"{xa} domain"
    xkey = "xaxis" if k == 1 else f"xaxis{k}"
    ykey = "yaxis" if k == 1 else f"yaxis{k}"
    lkey = "legend" if k == 1 else f"legend{k}"
    yzero = ytop + (ybot - ytop) * 0.8

    for name, vals, col in zip(names, values, colors):
        n = min(len(vals), len(HOURS))
        transconj = ":" in name
        fig.add_trace(go.Scatter(
            x=HOURS[:n], y=vals[:n], name=name, mode="lines+markers",
            line=dict(color=col, width=1),
            marker=dict(color=col, size=3 if transconj else 3.6, symbol="circle"),
            error_y=dict(type="data", array=sd[:n], color=col, thickness=0.6, width=1.2),
            xaxis=xa, yaxis=ya, legend=lkey, cliponaxis=False,
        ))

    layout[xkey] = dict(
        domain=[px(x0), px(x24)], range=[0, 24], anchor="free", position=py(yzero),
        tickvals=XTICKS, ticks="outside", ticklen=4, tickwidth=1, tickcolor=AX_COLOR,
        showline=True, linecolor=AX_COLOR, linewidth=1.3, showgrid=False, zeroline=False,
        tickfont=dict(family=FONT, size=8.5, color=AX_COLOR, weight="bold"),
        title=dict(text="Hours", font=dict(family=FONT, size=9.5, color="#222", weight="bold"), standoff=4),
        automargin=False, fixedrange=True,
    )
    layout[ykey] = dict(
        domain=[py(ybot), py(ytop)], range=[-0.5, 2.0], anchor=xa,
        tickvals=YTICKS, ticktext=YTICKTEXT, ticks="outside", ticklen=3, tickwidth=1,
        tickcolor=AX_COLOR, showline=True, linecolor=AX_COLOR, linewidth=1.3,
        showgrid=False, zeroline=False,
        tickfont=dict(family=FONT, size=8.5, color=AX_COLOR, weight="bold"),
        title=dict(text=ytitle, font=dict(family=FONT, size=8.5, color="#222", weight="bold"), standoff=7),
        automargin=False, fixedrange=True,
    )
    layout[lkey] = dict(
        x=px(lx), y=py(ltop), xanchor="left", yanchor="top",
        font=dict(family=FONT, size=8.5, color="#555"), bgcolor="rgba(0,0,0,0)",
        itemwidth=30, tracegroupgap=0, borderwidth=0,
    )
    annotations.append(dict(
        x=px((x0 + x24) / 2), y=py(ty), xref="paper", yref="paper", showarrow=False,
        text=title, font=dict(family=FONT, size=12.5, color="#222", weight="bold"),
        xanchor="center", yanchor="middle",
    ))
    # significance brackets between the end values of two series
    for ia, ib, label in sig:
        va, vb = values[ia][-1], values[ib][-1]
        col = colors[ib]
        annotations.append(dict(x=BR_X, y=va, ax=BR_X, ay=vb, xref=xd, yref=ya, axref=xd, ayref=ya,
                                text="", showarrow=True, arrowhead=0, arrowwidth=0.8, arrowcolor=col,
                                standoff=0, startstandoff=0))
        for v in (va, vb):
            annotations.append(dict(x=BR_CAP, y=v, ax=BR_X, ay=v, xref=xd, yref=ya, axref=xd, ayref=ya,
                                    text="", showarrow=True, arrowhead=0, arrowwidth=0.8, arrowcolor=col,
                                    standoff=0, startstandoff=0))
        annotations.append(dict(x=BR_TXT, y=(va + vb) / 2, xref=xd, yref=ya, text=label, showarrow=False,
                                xanchor="left", yanchor="middle", font=dict(family=FONT, size=7, color=col)))

# ---------------- table ----------------
TBL_L, TBL_R, TBL_MID = 912, 1135, 1025
TBL_ROWS = [30, 93, 124, 154, 183, 212, 241]
shapes.append(dict(type="rect", xref="paper", yref="paper", x0=px(TBL_L), x1=px(TBL_R),
                   y0=py(TBL_ROWS[-1]), y1=py(TBL_ROWS[0]), line=dict(color="#333", width=1.6)))
for yy in TBL_ROWS[1:-1]:
    shapes.append(dict(type="line", xref="paper", yref="paper", x0=px(TBL_L), x1=px(TBL_R),
                       y0=py(yy), y1=py(yy), line=dict(color="#333", width=1.4)))
shapes.append(dict(type="line", xref="paper", yref="paper", x0=px(TBL_MID), x1=px(TBL_MID),
                   y0=py(TBL_ROWS[1]), y1=py(TBL_ROWS[-1]), line=dict(color="#333", width=1.4)))
for j, line_txt in enumerate(TABLE_HEADER):
    annotations.append(dict(x=px((TBL_L + TBL_R) / 2), y=py(TBL_ROWS[0] + 18 + 25 * j), xref="paper",
                            yref="paper", showarrow=False, xanchor="center", yanchor="middle",
                            text=line_txt,
                            font=dict(family=SERIF, size=14.5, color="#111", weight="bold")))
for i, (a, b) in enumerate(zip(TABLE_LEFT, TABLE_RIGHT)):
    yc = (TBL_ROWS[i + 1] + TBL_ROWS[i + 2]) / 2
    for xc, txt in (((TBL_L + TBL_MID) / 2, a), ((TBL_MID + TBL_R) / 2, b)):
        annotations.append(dict(x=px(xc), y=py(yc), xref="paper", yref="paper", showarrow=False,
                                xanchor="center", yanchor="middle", text=txt,
                                font=dict(family=SERIF, size=14.5, color="#222")))

# ---------------- watermark ----------------
annotations.append(dict(x=px(513), y=py(828), xref="paper", yref="paper", showarrow=False,
                        text=WATERMARK, textangle=-45, xanchor="center", yanchor="middle",
                        font=dict(family=FONT, size=193, color="rgba(190,190,190,0.36)")))

fig.update_layout(
    width=W, height=H, margin=dict(l=0, r=0, t=0, b=0),
    paper_bgcolor="white", plot_bgcolor="rgba(0,0,0,0)",
    showlegend=True, annotations=annotations, shapes=shapes,
    **layout,
)

fig.write_html("out.html", config={"displayModeBar": False},
               post_script="document.body.style.margin='0';document.body.style.overflow='hidden';")
